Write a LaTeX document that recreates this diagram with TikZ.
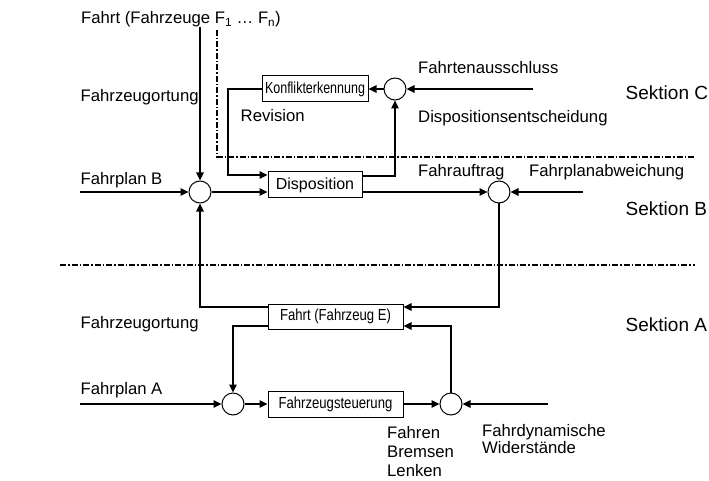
\documentclass[tikz,border=0pt]{standalone}
\usepackage{fontspec}
\setmainfont{Liberation Sans}
\newfontfamily\narrowfont[FakeStretch=0.78]{Liberation Sans}
\newfontfamily\semifont[FakeStretch=0.82]{Liberation Sans}
\usetikzlibrary{arrows.meta}
\begin{document}
\begin{tikzpicture}[x=1pt,y=-1pt,
  every node/.style={font=\fontsize{16.7}{19}\selectfont},
  lbl/.style={anchor=base west,inner sep=0pt},
  sek/.style={anchor=base west,inner sep=0pt,font=\fontsize{19}{22}\selectfont},
  sumpt/.style={draw,circle,line width=1pt,minimum size=22pt,inner sep=0pt},
  blk/.style={draw,line width=1pt,inner sep=0pt,minimum height=26pt,font=\fontsize{16}{19}\selectfont},
  conn/.style={line width=1.4pt},
  arr/.style={conn,-{Triangle[length=8pt,width=7.5pt]}},
  dashdot/.style={line width=1.4pt,dash pattern=on 6pt off 2pt on 1.5pt off 2pt}]
\useasboundingbox (0,0) rectangle (709,481);

% nodes
\node[sumpt] (sumC) at (395,89) {};
\node[blk,minimum width=106pt] (konf) at (315,89) {\narrowfont\fontsize{16}{19}\selectfont Konflikterkennung};
\node[blk,minimum width=94pt] (disp) at (315,185) {Disposition};
\node[sumpt] (sumB1) at (200,192) {};
\node[sumpt] (sumB2) at (499,192) {};
\node[blk,minimum width=135pt,minimum height=25pt] (fahrtE) at (335.5,316.5) {\semifont\fontsize{16}{19}\selectfont Fahrt (Fahrzeug E)};
\node[blk,minimum width=135pt] (steu) at (335.5,404) {\semifont\fontsize{16}{19}\selectfont Fahrzeugsteuerung};
\node[sumpt] (sumA1) at (233,404) {};
\node[sumpt] (sumA2) at (451,404) {};

% free ends and helper coordinates
\coordinate (top) at (200,27);
\coordinate (fpB) at (80,192);
\coordinate (faus) at (533,89);
\coordinate (fabw) at (583,192);
\coordinate (fpA) at (80,404);
\coordinate (fdw) at (548,404);
\coordinate (rev) at (228,175);
\coordinate (d1) at (0,176);
\coordinate (e1) at (0,307);
\coordinate (e2) at (0,326);

% texts
\node[lbl] (title) at (81,23.5) {Fahrt (Fahrzeuge F\textsubscript{1} … F\textsubscript{n})};
\node[lbl] (ortO) at (80.5,101.5) {Fahrzeugortung};
\node[lbl] (revl) at (240.5,121.5) {Revision};
\node[lbl] (fplB) at (80.5,185) {Fahrplan B};
\node[lbl] (faustxt) at (418,74) {Fahrtenausschluss};
\node[lbl] (dent) at (418,123) {Dispositionsentscheidung};
\node[lbl] (fauf) at (418,176.5) {Fahrauftrag};
\node[lbl] (fabwtxt) at (529,176.5) {Fahrplanabweichung};
\node[lbl] (ortU) at (80.5,328) {Fahrzeugortung};
\node[lbl] (fplA) at (80.5,394) {Fahrplan A};
\node[lbl] (fah) at (387,438) {Fahren};
\node[lbl] (brm) at (387,457.5) {Bremsen};
\node[lbl] (lnk) at (387,476.5) {Lenken};
\node[lbl] (fdyn) at (482,436) {Fahrdynamische};
\node[lbl] (wid) at (482,453.5) {Widerstände};
\node[sek] (sC) at (625.5,100) {Sektion C};
\node[sek] (sB) at (625.5,215) {Sektion B};
\node[sek] (sA) at (625.5,331.5) {Sektion A};

% dash-dot section borders
\draw[dashdot] (217,30) -- (217,157) -- (695,157);
\draw[dashdot] (60,265) -- (695,265);

% connectors
\draw[arr] (top) -- (sumB1.north);
\draw[arr] (fpB) -- (sumB1.west);
\draw[arr] (sumB1.east) -- (sumB1.east -| disp.west);
\draw[arr] (konf.west) -| (rev) -- (rev -| disp.west);
\draw[arr] (d1 -| disp.east) -| (sumC.south);
\draw[arr] (sumC.west) -- (konf.east);
\draw[arr] (faus) -- (sumC.east);
\draw[arr] (sumB2.west -| disp.east) -- (sumB2.west);
\draw[arr] (fabw) -- (sumB2.east);
\draw[arr] (sumB2.south) |- (e1 -| fahrtE.east);
\draw[arr] (e1 -| fahrtE.west) -| (sumB1.south);
\draw[arr] (e2 -| fahrtE.west) -| (sumA1.north);
\draw[arr] (sumA2.north) |- (e2 -| fahrtE.east);
\draw[arr] (fpA) -- (sumA1.west);
\draw[arr] (sumA1.east) -- (steu.west);
\draw[arr] (steu.east) -- (sumA2.west);
\draw[arr] (fdw) -- (sumA2.east);
\end{tikzpicture}
\end{document}
